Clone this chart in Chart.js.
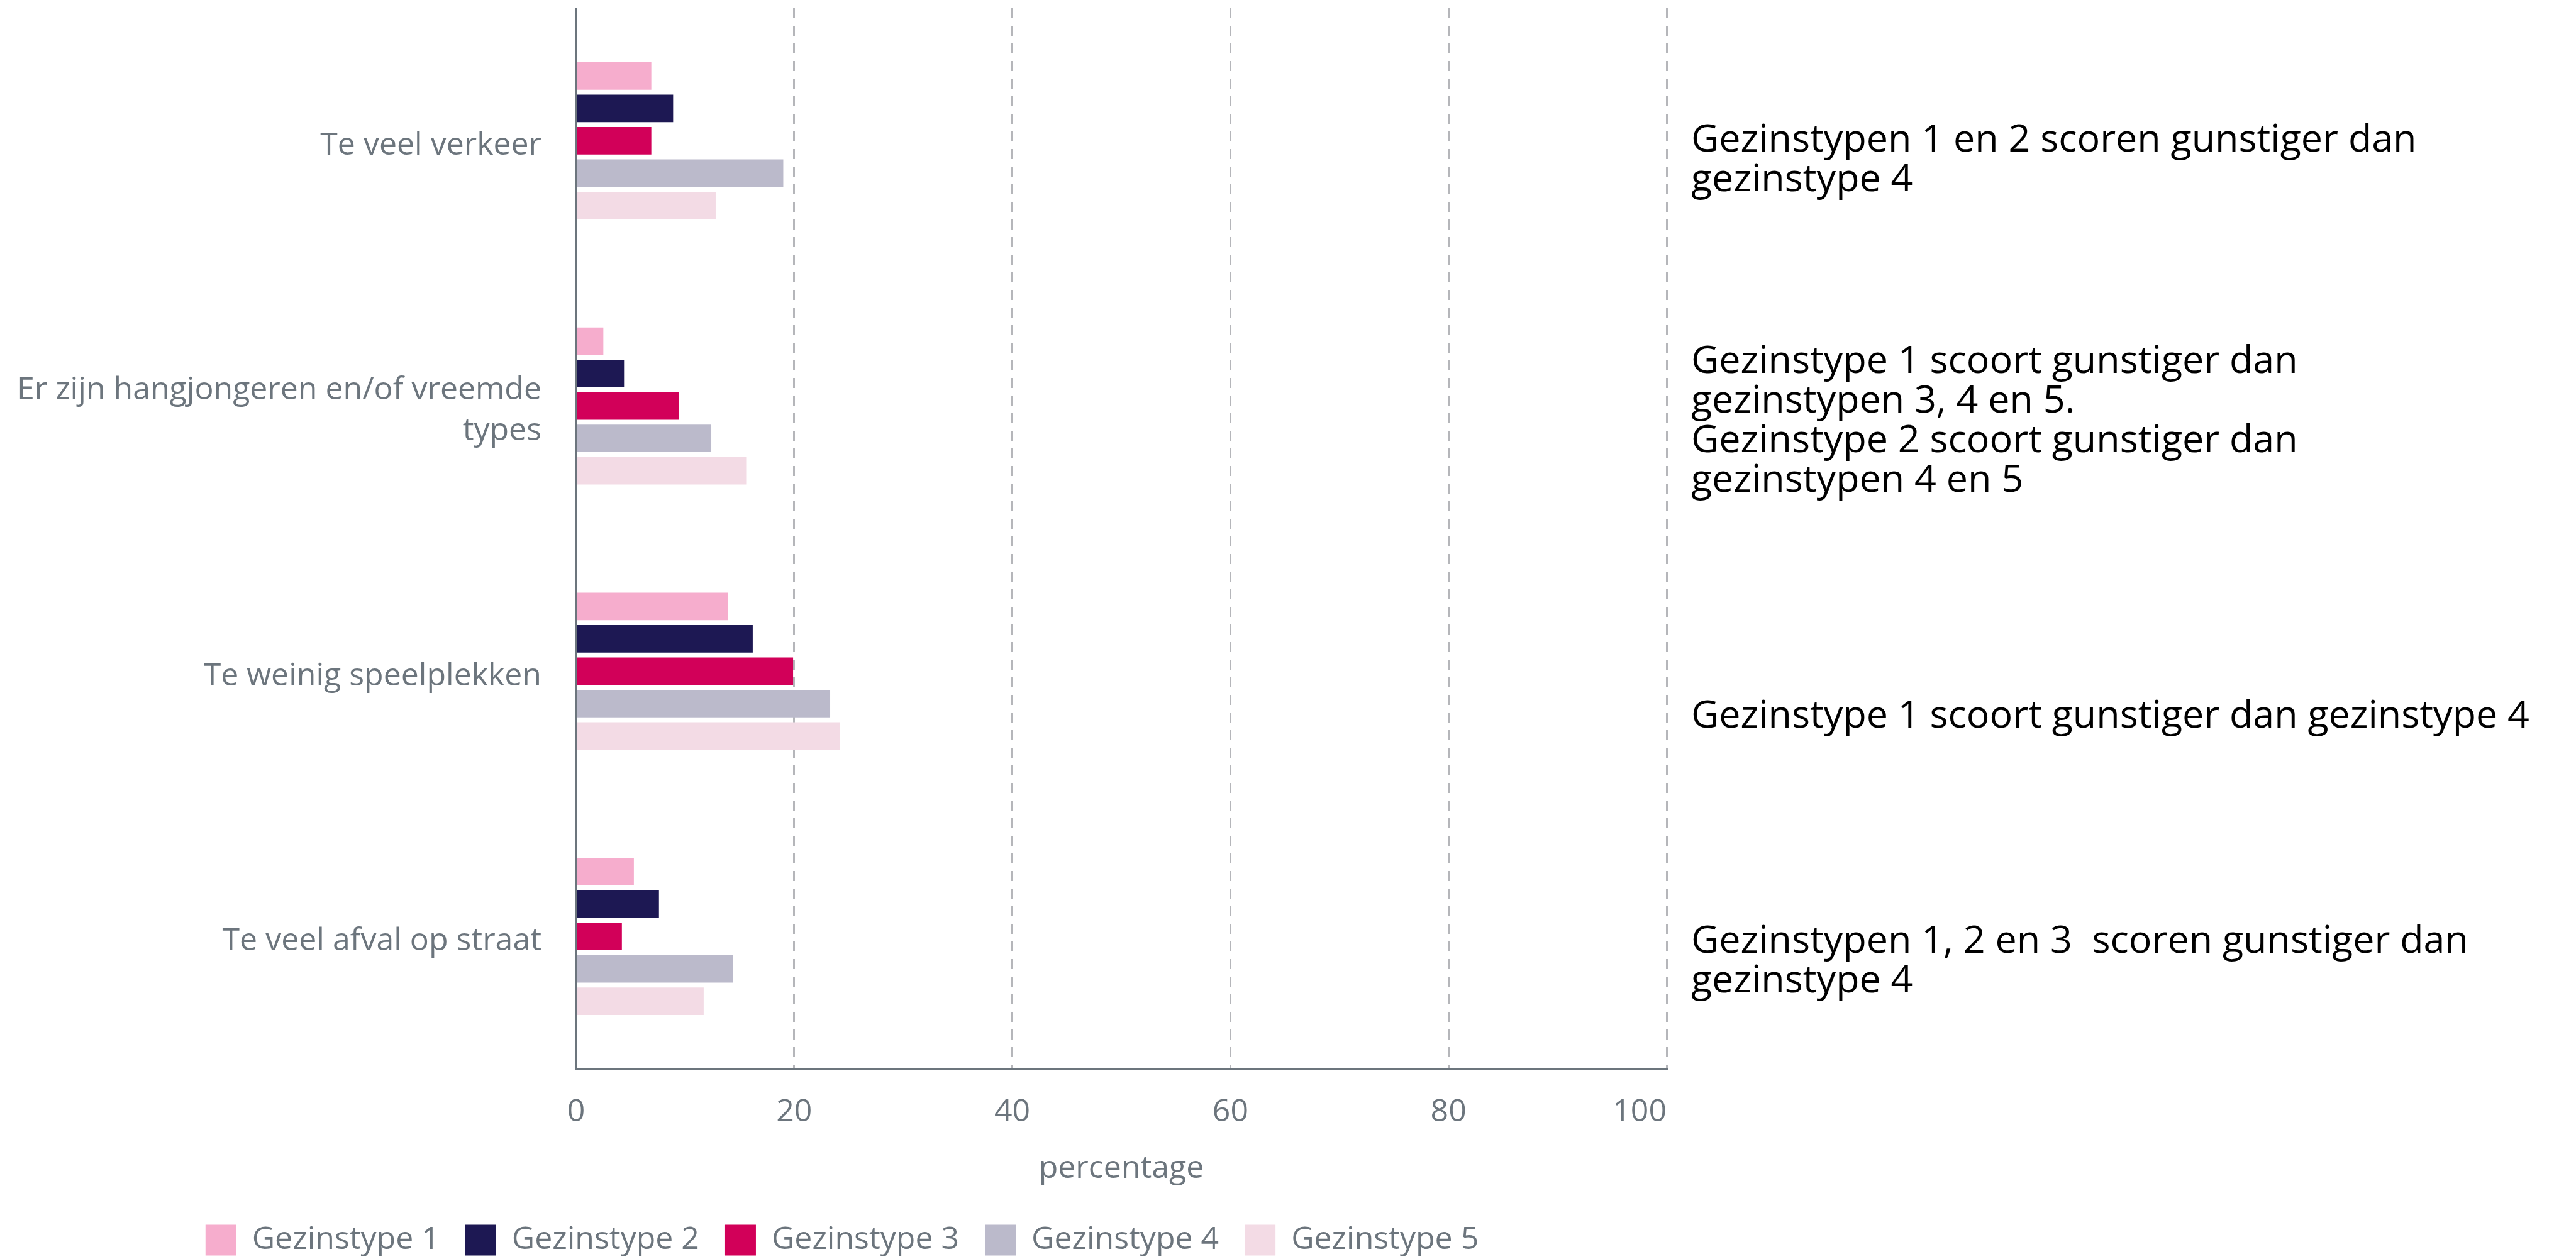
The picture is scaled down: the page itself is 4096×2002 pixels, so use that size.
<!DOCTYPE html>
<html>
<head>
<meta charset="utf-8">
<script src="https://cdn.jsdelivr.net/npm/chart.js@4"></script>
<style>
  html, body { margin: 0; padding: 0; background: #fff; overflow: hidden; }
  #wrap { width: 4096px; height: 2002px; position: relative; }
</style>
</head>
<body>
<div id="wrap"><canvas id="mainChart"></canvas></div>
<script>
// categories and series (percentages)
const categories = [
    'Te veel verkeer',
    ['Er zijn hangjongeren en/of vreemde', 'types'],
    'Te weinig speelplekken',
    'Te veel afval op straat'
];
const seriesNames = ['Gezinstype 1', 'Gezinstype 2', 'Gezinstype 3', 'Gezinstype 4', 'Gezinstype 5'];
const gezinstype1 = [6.9, 2.5, 13.9, 5.3];
const gezinstype2 = [8.9, 4.4, 16.2, 7.6];
const gezinstype3 = [6.9, 9.4, 19.9, 4.2];
const gezinstype4 = [19.0, 12.4, 23.3, 14.4];
const gezinstype5 = [12.8, 15.6, 24.2, 11.7];
const xTicks = [0, 20, 40, 60, 80, 100];

const notes = [
    ['Gezinstypen 1 en 2 scoren gunstiger dan', 'gezinstype 4'],
    ['Gezinstype 1 scoort gunstiger dan', 'gezinstypen 3, 4 en 5.', 'Gezinstype 2 scoort gunstiger dan', 'gezinstypen 4 en 5'],
    ['Gezinstype 1 scoort gunstiger dan gezinstype 4'],
    ['Gezinstypen 1, 2 en 3  scoren gunstiger dan', 'gezinstype 4']
];
// vertical shift of each note block relative to its category centre
const noteShift = [31, 24, 72, 40];

const colors = ['#f6adcd', '#1d1853', '#d20059', '#bbbacb', '#f3dbe5'];
const greyText = '#6c757d';

Chart.defaults.font.family = '"Open Sans", sans-serif';
Chart.defaults.font.size = 50;
Chart.defaults.color = greyText;

const notesPlugin = {
    id: 'notes',
    afterLayout(chart) {
        // legend sits a little right of the plot centre
        chart.legend.left += 14;
        chart.legend.right += 14;
    },
    afterDraw(chart) {
        const ctx = chart.ctx;
        const y = chart.scales.y;
        const lh = 63;
        ctx.save();
        ctx.font = '61px "Open Sans", sans-serif';
        ctx.fillStyle = '#000000';
        ctx.textAlign = 'left';
        ctx.textBaseline = 'middle';
        notes.forEach((lines, i) => {
            const cy = y.getPixelForValue(i) + noteShift[i];
            lines.forEach((t, k) => {
                ctx.fillText(t, 2689, cy + (k - (lines.length - 1) / 2) * lh);
            });
        });
        ctx.restore();
    }
};

const allSeries = [gezinstype1, gezinstype2, gezinstype3, gezinstype4, gezinstype5];
const datasets = allSeries.map((d, i) => ({
    label: seriesNames[i],
    data: d,
    backgroundColor: colors[i],
    borderWidth: 0,
    categoryPercentage: 0.61,
    barPercentage: 0.85
}));

new Chart(document.getElementById('mainChart').getContext('2d'), {
    type: 'bar',
    data: { labels: categories, datasets: datasets },
    plugins: [notesPlugin],
    options: {
        indexAxis: 'y',
        responsive: true,
        maintainAspectRatio: false,
        animation: false,
        layout: { padding: { top: 13, right: 1446, left: 0, bottom: -5 } },
        scales: {
            x: {
                min: 0,
                max: 100,
                afterBuildTicks: s => { s.ticks = xTicks.map(v => ({ value: v })); },
                grid: { color: '#b5b6ba', lineWidth: 3, tickLength: 0, drawTicks: false },
                border: { display: true, color: greyText, width: 4, dash: [16, 12] },
                ticks: {
                    padding: 39,
                    font: { size: 50 },
                    // last label sits flush with the end of the axis
                    callback: v => v === 100 ? '100\u2007\u2007\u2007' : String(v)
                },
                title: { display: true, text: 'percentage', font: { size: 50 }, padding: { top: -9, bottom: 17 } }
            },
            y: {
                grid: { display: false },
                border: { display: true, color: greyText, width: 3 },
                ticks: { padding: 47, labelOffset: 8, font: { size: 50, lineHeight: 1.3 } },
                afterFit: s => { s.width = 916; s.paddingTop = 0; s.paddingBottom = 0; }
            }
        },
        plugins: {
            legend: {
                position: 'bottom',
                labels: { boxWidth: 49, boxHeight: 49, padding: 41, font: { size: 50 }, color: greyText }
            },
            tooltip: { enabled: false }
        }
    }
});
</script>
</body>
</html>
